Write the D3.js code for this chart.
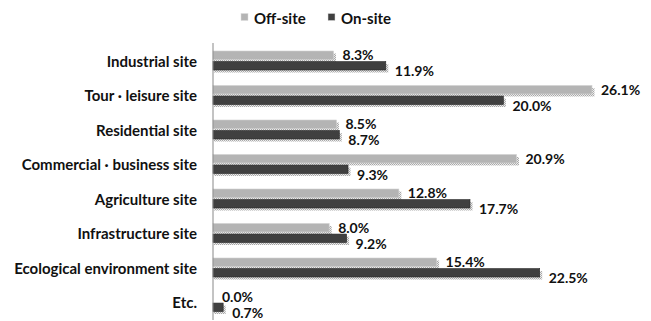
<!DOCTYPE html>
<html><head><meta charset="utf-8">
<script src="https://cdn.jsdelivr.net/npm/d3@7"></script>
<style>body{margin:0;background:#fff}svg{display:block}text{font-family:Lato,"Open Sans",sans-serif;font-weight:bold;fill:#111}</style>
</head><body><svg id="c" width="651" height="321"></svg>
<script>
const categories = ["Industrial site","Tour · leisure site","Residential site","Commercial · business site","Agriculture site","Infrastructure site","Ecological environment site","Etc."];
const offSite = [8.3,26.1,8.5,20.9,12.8,8.0,15.4,0.0];
const onSite = [11.9,20.0,8.7,9.3,17.7,9.2,22.5,0.7];
const seriesNames = ["Off-site","On-site"];
const colors = ["#b4b4b4","#404040"];

(function(){
const svg = d3.select("#c");
const mLeft = 213, mTop = 44.5, step = 34.5;
const x = d3.scaleLinear().domain([0,1]).range([mLeft,mLeft+14.52]);
const y = d3.scaleBand().domain(categories).range([mTop,mTop+step*categories.length]).paddingInner(0).paddingOuter(0);
const sub = d3.scaleBand().domain(seriesNames).range([6.5, 25.5]).paddingInner(0.2);

const defs = svg.append("defs");
const pat = defs.append("pattern").attr("id","dots").attr("width",2).attr("height",2).attr("patternUnits","userSpaceOnUse");
pat.append("rect").attr("width",2).attr("height",2).attr("fill","#ececec");
pat.append("rect").attr("width",1).attr("height",1).attr("fill","#a8a8a8");
pat.append("rect").attr("x",1).attr("y",1).attr("width",1).attr("height",1).attr("fill","#a8a8a8");

const rows = categories.map((c,i)=>({c, vals:[offSite[i],onSite[i]]}));
const g = svg.append("g");
rows.forEach(r=>{
  r.vals.forEach((v,k)=>{
    const s = seriesNames[k];
    const yy = y(r.c)+sub(s), h = sub.bandwidth();
    if (v>0) {
      g.append("rect").attr("x",mLeft+1).attr("y",yy+2.5).attr("width",x(v)-mLeft+1.5).attr("height",h).attr("fill","url(#dots)");
      g.append("rect").attr("x",mLeft).attr("y",yy).attr("width",x(v)-mLeft).attr("height",h).attr("fill",colors[k])
        .attr("stroke", k===0?"#d0d0d0":"#2a2a2a").attr("stroke-width",0.6);
    }
    const dy = k===0 ? -0.5 : 5;
    g.append("text").attr("x",x(v)+9).attr("y",yy+h/2+dy).attr("dominant-baseline","central")
      .attr("font-size","14px").text(v.toFixed(1)+"%");
  });
});

const yAxis = d3.axisLeft(y).tickSize(0).tickPadding(16);
const ax = svg.append("g").attr("transform",`translate(${mLeft},0)`).call(yAxis);
ax.select(".domain").remove();
ax.selectAll("text").attr("font-size","15px").attr("fill","#111").style("font-family","Lato, 'Open Sans', sans-serif").style("font-weight","bold");
svg.append("line").attr("x1",mLeft).attr("x2",mLeft).attr("y1",mTop-1.5).attr("y2",320).attr("stroke","#888").attr("stroke-width",1);

const leg = svg.append("g");
const legX = [241, 328];
seriesNames.forEach((s,k)=>{
  leg.append("rect").attr("x",legX[k]).attr("y",13.5).attr("width",7).attr("height",7).attr("fill",colors[k]).attr("stroke","#ddd").attr("stroke-width",0.5);
  leg.append("text").attr("x",legX[k]+13).attr("y",17.5).attr("dominant-baseline","central").attr("font-size","15px").text(s);
});
})();
</script></body></html>
